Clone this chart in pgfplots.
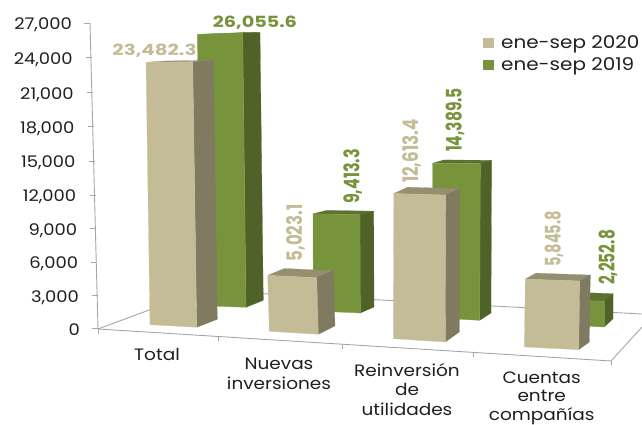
\documentclass[border=0pt]{standalone}
\usepackage{fontspec}
\usepackage{graphicx}
\usepackage{xfp}
\usepackage{pgfplots}
\pgfplotsset{compat=1.18}
\setmainfont{Poppins}

\definecolor{beigefront}{HTML}{C4BC96}
\definecolor{beigeside}{HTML}{7F7A60}
\definecolor{beigetop}{HTML}{948F6F}
\definecolor{greenfront}{HTML}{77933C}
\definecolor{greenside}{HTML}{4F6228}
\definecolor{greentop}{HTML}{5C7230}
\definecolor{frameline}{HTML}{A6A6A6}
\definecolor{labeltext}{HTML}{1F1F1F}

% page position (measured downward) to axis value
\newcommand{\pxY}[1]{\fpeval{(328.7-(#1))*88.32}}
\def\splitpair#1/#2\relax#3#4{\def#3{#1}\def#4{#2}}

% framing line given in page positions
\newcommand{\frameseg}[4]{%
  \edef\ya{\pxY{#2}}\edef\yb{\pxY{#4}}%
  \addplot[frameline, line width=0.9pt, forget plot] coordinates {(#1,\ya) (#3,\yb)};%
}

% one solid column: #1 colour family, #2 value, #3 page units per thousand,
% #4 lean of the top, #5 #6 #7 foot corners (front left, front right, back right)
\newcommand{\solidbar}[7]{%
  \splitpair#5\relax\xl\yl \splitpair#6\relax\xr\yr \splitpair#7\relax\xb\yb
  \edef\h{\fpeval{#2/1000*#3}}%
  \edef\tlx{\fpeval{\xl+(#4)}}\edef\tly{\fpeval{\yl-0.988*\h}}%
  \edef\trx{\fpeval{\xr+(#4)}}\edef\try{\fpeval{\yr-\h}}%
  \edef\tbx{\fpeval{\xb+(#4)}}\edef\tby{\fpeval{\yb-0.975*\h}}%
  \edef\tcx{\fpeval{\tlx+\tbx-\trx}}\edef\tcy{\fpeval{\tly+\tby-\try}}%
  \edef\Ayl{\pxY{\yl}}\edef\Ayr{\pxY{\yr}}\edef\Ayb{\pxY{\yb}}%
  \edef\Atl{\pxY{\tly}}\edef\Atr{\pxY{\try}}%
  \edef\Atb{\pxY{\tby}}\edef\Atc{\pxY{\tcy}}%
  \addplot[fill=#1top, draw=#1top, line width=0.2pt, forget plot] coordinates
    {(\tlx,\Atl) (\trx,\Atr) (\tbx,\Atb) (\tcx,\Atc)} -- cycle;%
  \addplot[fill=#1side, draw=#1side, line width=0.2pt, forget plot] coordinates
    {(\xr,\Ayr) (\xb,\Ayb) (\tbx,\Atb) (\trx,\Atr)} -- cycle;%
  \addplot[fill=#1front, draw=#1front!85!white, line width=0.3pt, forget plot] coordinates
    {(\xl,\Ayl) (\xr,\Ayr) (\trx,\Atr) (\tlx,\Atl)} -- cycle;%
}

\newcommand{\valuetext}[1]{\pgfmathprintnumber[fixed, fixed zerofill, precision=1, 1000 sep={,}, assume math mode=true]{#1}}
% value written across, and value written upward and condensed
\newcommand{\flatlabel}[4]{\node[text=#3, inner sep=0pt] at (axis cs:#1,{\pxY{#2}})
  {\resizebox{84pt}{11.5pt}{\bfseries\valuetext{#4}}};}
\newcommand{\uplabel}[5]{\node[text=#3, inner sep=0pt, rotate=90] at (axis cs:#1,{\pxY{#2}})
  {\resizebox{#5pt}{16pt}{\bfseries\valuetext{#4}}};}
\newcommand{\catlabel}[4][19.5]{\node[text=labeltext, align=center, inner sep=0pt,
  font=\fontsize{16.5}{#1}\selectfont, anchor=center, xscale=1.12, transform shape]
  at (axis cs:#2,{\pxY{#3}}) {#4};}

\begin{document}
\begin{tikzpicture}[x=1pt,y=1pt]
\useasboundingbox (0,0) rectangle (642,425);
\begin{axis}[
  at={(85pt,0pt)}, anchor=south west,
  scale only axis, width=557pt, height=425pt,
  xmin=85, xmax=642,
  ymin=-8505.6, ymax=29031.0,
  clip=false,
  hide x axis,
  y axis line style={draw=none},
  ytick={0,3000,6000,9000,12000,15000,18000,21000,24000,27000},
  ytick style={draw=none},
  major tick length=0pt,
  scaled y ticks=false,
  yticklabel style={anchor=east, inner sep=0pt, text=labeltext,
    font=\fontsize{16}{18}\selectfont},
  yticklabel={\edef\fr{\fpeval{\tick/27000}}%
    \edef\gap{\fpeval{5+8*\fr}}\edef\drop{\fpeval{1+9.2*\fr*(1-\fr)}}%
    \raisebox{-\drop pt}[11pt][0pt]{\scalebox{1.12}[1]{\pgfmathprintnumber[fixed, 1000 sep={,}, assume math mode=true]{\tick}}}\hspace*{\gap pt}},
  legend cell align=left,
  legend style={at={(0.7137,0.9165)}, anchor=north west, draw=none, fill=none,
    inner sep=0pt, row sep=8pt, nodes={inner sep=0pt, text=labeltext},
    font=\fontsize{17.5}{18}\selectfont, /tikz/column 2/.style={column sep=0pt},
    /tikz/column 1/.style={column sep=7pt}},
  legend image code/.code={\fill[draw=none,#1] (0pt,-5pt) rectangle (11.5pt,5pt);},
]
\addlegendimage{fill=beigefront, draw=none}
\addlegendentry{\scalebox{1.14}[1]{ene-sep 2020}}
\addlegendimage{fill=greenfront, draw=none}
\addlegendentry{\scalebox{1.14}[1]{ene-sep 2019}}

% floor and wall of the box
\frameseg{90}{23}{98}{329}
\frameseg{98}{329}{202}{290.4}
\frameseg{202}{290.4}{642}{314}
\frameseg{98}{329}{611}{361}
\frameseg{611}{361}{642}{327}
% tick marks along the value axis
\frameseg{84}{23}{90}{23}
\frameseg{85.5}{57.7}{91.5}{57.7}
\frameseg{86.5}{92.3}{92.5}{92.3}
\frameseg{87.5}{126.7}{93.5}{126.7}
\frameseg{88.5}{161}{94.5}{161}
\frameseg{89.5}{195}{95.5}{195}
\frameseg{90}{228.7}{96}{228.7}
\frameseg{91}{262}{97}{262}
\frameseg{91.5}{295.3}{97.5}{295.3}
\frameseg{92}{328.7}{98}{328.7}
% tick marks along the category axis
\frameseg{98}{329}{98}{334}
\frameseg{218}{336.5}{218}{341}
\frameseg{342.7}{344.7}{342.7}{349}
\frameseg{473.7}{352.5}{473.7}{357}
\frameseg{611}{361}{611}{365.5}

% rear row, ene-sep 2019
\solidbar{green}{26055.6}{10.54}{-3.3}{200.6/305.7}{246/307.3}{263.3/300.3}
\solidbar{green}{9413.3}{10.44}{-0.3}{313.3/311}{360.3/313}{374/307}
\solidbar{green}{14389.5}{10.88}{0.6}{432/318}{479.7/320.3}{491/313}
\solidbar{green}{2252.8}{11.40}{0}{556/325}{604.3/327}{613/318.7}

% front row, ene-sep 2020
\solidbar{beige}{23482.3}{11.31}{-4}{150/324.7}{196.7/327.3}{217.3/319.3}
\solidbar{beige}{5023.1}{11.27}{-1.6}{269.3/331.3}{318.3/334.3}{335/326}
\solidbar{beige}{12613.4}{11.65}{0.5}{393.3/338.7}{445.3/342}{459.3/332}
\solidbar{beige}{5845.8}{11.75}{1}{524.3/347}{578.7/349.7}{589.3/342}

% value labels
\flatlabel{154.5}{50.5}{beigefront}{23482.3}
\flatlabel{255}{22.5}{greenfront}{26055.6}
\uplabel{296}{233}{beigefront}{5023.1}{57}
\uplabel{352.7}{176.5}{greenfront}{9413.3}{55}
\uplabel{412}{151}{beigefront}{12613.4}{64}
\uplabel{455}{120}{greenfront}{14389.5}{64}
\uplabel{554}{239}{beigefront}{5845.8}{56}
\uplabel{608}{257.5}{greenfront}{2252.8}{55}

% category names
\catlabel{157}{354}{Total}
\catlabel{279}{374}{Nuevas\\inversiones}
\catlabel{407}{389.5}{Reinversión\\de\\utilidades}
\catlabel[18.6]{541.7}{398}{Cuentas\\entre\\compañías}
\end{axis}
\end{tikzpicture}
\end{document}
